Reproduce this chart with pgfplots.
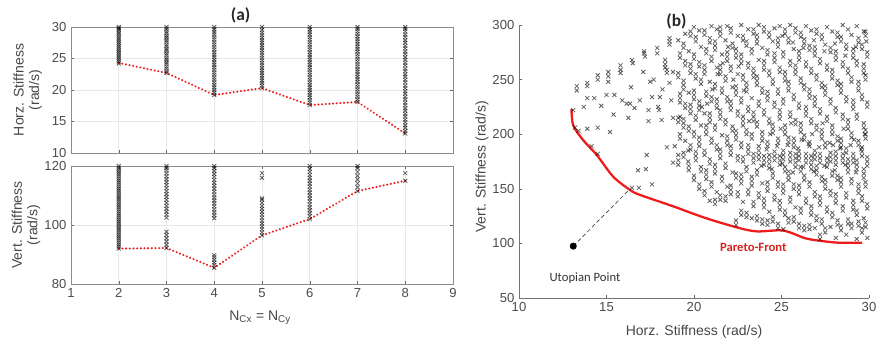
\documentclass[border=0pt]{standalone}
\usepackage{fontspec}
\setmainfont{Liberation Sans}
\newfontfamily\calfont{Carlito}
\usepackage{pgfplots}
\pgfplotsset{compat=1.18}
\definecolor{mred}{RGB}{238,28,28}
\definecolor{ptext}{RGB}{212,36,36}
\begin{document}
\begin{tikzpicture}
\path[use as bounding box] (0,0) rectangle (659.25pt,256.5pt);
\pgfplotsset{
 mystyle/.style={scale only axis, anchor=south west,
   /pgf/number format/assume math mode=true,
   tick label style={font=\fontsize{9.8}{10.5}\selectfont, text=black!70},
   label style={font=\fontsize{10.5}{11.6}\selectfont, text=black!72},
   major tick length=2.5pt, tick style={black!60}, tick align=inside, clip=false},
 xm/.style={only marks, mark=x, mark size=2.1pt, mark options={black, line width=0.6pt, opacity=0.62}},
 rdot/.style={mred, line width=1.7pt, dash pattern=on 0.05pt off 2.7pt, line cap=round},
}
% ---------- (a) top ----------
\begin{axis}[mystyle, at={(53.25pt,141.75pt)}, width=286.5pt, height=94.5pt,
 xmin=1, xmax=9, ymin=10, ymax=30, xtick={1,...,9}, xticklabels={}, ytick={10,15,20,25,30},
 grid=major, grid style={gray!18, line width=0.4pt}, axis line style={black!45},
 ylabel={Horz. Stiffness\\(rad/s)}, ylabel style={align=center, at={(axis description cs:-0.113,0.5)}, anchor=center}]
\addplot[xm] coordinates {(2,24.2)(2,24.5)(2,24.8)(2,25.1)(2,25.4)(2,25.7)(2,26)(2,26.3)(2,26.6)(2,26.9)(2,27.2)(2,27.5)(2,27.8)(2,28.1)(2,28.4)(2,28.7)(2,29)(2,29.3)(2,29.6)(2,29.8)(2,30)};
\addplot[xm] coordinates {(3,22.7)(3,23)(3,23.4)(3,23.7)(3,24.1)(3,24.4)(3,24.8)(3,25.1)(3,25.5)(3,25.8)(3,26.2)(3,26.5)(3,26.9)(3,27.2)(3,27.6)(3,27.9)(3,28.3)(3,28.6)(3,29)(3,29.3)(3,29.7)(3,30)};
\addplot[xm] coordinates {(4,19.2)(4,19.6)(4,20)(4,20.4)(4,20.8)(4,21.2)(4,21.6)(4,22)(4,22.4)(4,22.8)(4,23.2)(4,23.6)(4,24)(4,24.4)(4,24.8)(4,25.2)(4,25.6)(4,26)(4,26.4)(4,26.8)(4,27.2)(4,27.6)(4,28)(4,28.4)(4,28.8)(4,29.2)(4,29.6)(4,30)};
\addplot[xm] coordinates {(5,20.3)(5,20.7)(5,21.1)(5,21.5)(5,21.9)(5,22.3)(5,22.7)(5,23.1)(5,23.5)(5,23.9)(5,24.3)(5,24.7)(5,25.1)(5,25.5)(5,25.9)(5,26.3)(5,26.7)(5,27.1)(5,27.5)(5,27.9)(5,28.3)(5,28.7)(5,29.1)(5,29.5)(5,30)};
\addplot[xm] coordinates {(6,17.6)(6,18)(6,18.4)(6,18.8)(6,19.2)(6,19.6)(6,20)(6,20.4)(6,20.8)(6,21.2)(6,21.6)(6,22)(6,22.4)(6,22.8)(6,23.2)(6,23.6)(6,24)(6,24.4)(6,24.8)(6,25.2)(6,25.6)(6,26)(6,26.4)(6,26.8)(6,27.2)(6,27.6)(6,28)(6,28.4)(6,28.8)(6,29.2)(6,29.6)(6,30)};
\addplot[xm] coordinates {(7,18.1)(7,18.5)(7,18.9)(7,19.3)(7,19.7)(7,20.1)(7,20.5)(7,20.9)(7,21.3)(7,21.7)(7,22.1)(7,22.5)(7,22.9)(7,23.3)(7,23.7)(7,24.1)(7,24.5)(7,24.9)(7,25.3)(7,25.7)(7,26.1)(7,26.5)(7,26.9)(7,27.3)(7,27.7)(7,28.1)(7,28.5)(7,28.9)(7,29.3)(7,29.7)(7,30)};
\addplot[xm] coordinates {(8,13.1)(8,13.5)(8,14)(8,14.4)(8,14.9)(8,15.3)(8,15.8)(8,16.2)(8,16.7)(8,17.1)(8,17.6)(8,18)(8,18.5)(8,18.9)(8,19.4)(8,19.8)(8,20.3)(8,20.7)(8,21.2)(8,21.6)(8,22.1)(8,22.5)(8,23)(8,23.4)(8,23.9)(8,24.3)(8,24.8)(8,25.2)(8,25.7)(8,26.1)(8,26.6)(8,27)(8,27.5)(8,27.9)(8,28.4)(8,28.8)(8,29.3)(8,29.7)(8,30)};
\addplot[rdot] coordinates {(2,24.3)(3,22.7)(4,19.2)(5,20.3)(6,17.6)(7,18.1)(8,13.1)};
\node[font=\calfont\bfseries\fontsize{13}{14}\selectfont, text=black!85] at (axis description cs:0.444,1.095) {(a)};
\end{axis}
% ---------- (a) bottom ----------
\begin{axis}[mystyle, at={(53.25pt,43.5pt)}, width=286.5pt, height=88.5pt,
 xmin=1, xmax=9, ymin=80, ymax=120, xtick={1,...,9}, ytick={80,100,120},
 grid=major, grid style={gray!18, line width=0.4pt}, axis line style={black!45},
 xlabel={N\textsubscript{Cx} = N\textsubscript{Cy}}, xlabel style={at={(axis description cs:0.495,-0.288)}, anchor=center},
 ylabel={Vert. Stiffness\\(rad/s)}, ylabel style={align=center, at={(axis description cs:-0.118,0.5)}, anchor=center}]
\addplot[xm] coordinates {(2,92)(2,92.7)(2,93.4)(2,94.1)(2,94.8)(2,95.5)(2,96.2)(2,96.9)(2,97.6)(2,98.3)(2,99)(2,99.7)(2,100.4)(2,101.1)(2,101.8)(2,102.5)(2,103.2)(2,103.9)(2,104.6)(2,105.3)(2,106)(2,106.7)(2,107.4)(2,108.1)(2,108.8)(2,109.5)(2,110.2)(2,110.9)(2,111.6)(2,112.3)(2,113)(2,113.7)(2,114.4)(2,115.1)(2,115.8)(2,116.5)(2,117.2)(2,117.9)(2,118.6)(2,119.3)(2,120)};
\addplot[xm] coordinates {(3,92.2)(3,93.3)(3,94.4)(3,95.5)(3,96.6)(3,97.7)(3,102.5)(3,103.5)(3,104.5)(3,105.5)(3,106.5)(3,107.5)(3,108.5)(3,109.5)(3,110.5)(3,111.5)(3,112.5)(3,113.5)(3,114.5)(3,115.5)(3,116.5)(3,117.5)(3,118.5)(3,119.3)(3,120)};
\addplot[xm] coordinates {(4,85.5)(4,86.4)(4,87.3)(4,88.2)(4,89.1)(4,89.8)(4,102.3)(4,103.3)(4,104.3)(4,105.3)(4,106.3)(4,107.3)(4,108.3)(4,109.3)(4,110.3)(4,111.3)(4,112.3)(4,113.3)(4,114.3)(4,115.3)(4,116.3)(4,117.3)(4,118.3)(4,119.3)(4,120)};
\addplot[xm] coordinates {(5,96.5)(5,97.5)(5,98.5)(5,99.5)(5,100.5)(5,101.5)(5,102.5)(5,103.5)(5,104.5)(5,105.5)(5,106.5)(5,107.5)(5,108.5)(5,109)(5,116)(5,117.6)};
\addplot[xm] coordinates {(6,102)(6,103)(6,104)(6,105)(6,106)(6,107)(6,108)(6,109)(6,110)(6,111)(6,112)(6,113)(6,114)(6,115)(6,116)(6,117)(6,118)(6,119)(6,120)};
\addplot[xm] coordinates {(7,111.5)(7,112.8)(7,114.1)(7,115.4)(7,116.7)(7,118)(7,119.3)(7,120)};
\addplot[xm] coordinates {(8,115)(8,117.6)};
\addplot[rdot] coordinates {(2,92)(3,92.2)(4,85.5)(5,96.5)(6,102)(7,111.5)(8,115)};
\end{axis}
% ---------- (b) ----------
\begin{axis}[mystyle, at={(389.25pt,33pt)}, width=262.5pt, height=204.75pt,
 xmin=10, xmax=30, ymin=50, ymax=300, xtick={10,15,...,30}, ytick={50,100,...,300},
 axis x line*=bottom, axis y line*=left, axis line style={black!55}, x axis line style={-}, y axis line style={-},
 xlabel={Horz. Stiffness (rad/s)}, xlabel style={at={(axis description cs:0.5,-0.125)}, anchor=center},
 ylabel={Vert. Stiffness (rad/s)}, ylabel style={at={(axis description cs:-0.106,0.48)}, anchor=center}]
\addplot[xm] coordinates {
(13.1,222)(13.2,206)(13.4,203)(13.7,225)(13.3,240)(13.3,244)(13.9,233)(14.3,233)(13.9,244)(13.9,247)(14.5,254)(14.5,250)(14.7,226)(15.1,257)(15.1,253)(15.1,248)(15,236)(15.45,236)(15.4,218)(15.8,263)(15.8,259)(15.8,256)(15.9,231)(16.25,215)(16.35,228)(16.45,268)(16.5,265)(16.6,224)(16.9,231)(17.1,257)(17.15,274)(17.15,276)(17.2,271)(17.4,212)(17.6,234)(17.9,279)(17.9,274)(18,222)(18.05,234)(18.35,268)(18.35,264)(18.35,261)(18.6,288)(18.6,285)(18.6,282)
(13.9,205)(14.5,206)(15.2,202)(14.15,189)(14.5,182)(17.3,181)(16.8,167)(17.25,168)(16.45,151)(16.85,151)(17.6,154)(18.8,174)(18.45,188)(18.9,189)
(18.15,213)(18.8,215)(18.7,231)(18.45,256)(18.45,259)(18.6,247)(18.2,241)(17.7,250)(17.5,248)(16.15,228)(16.4,243)(17.4,222)(17.95,225)(18.8,257)(19.2,216)(19.67,185)(19.67,175)
(19.1,172)(19.1,176)(19.1,181)(19.2,196)(19.2,200)(19.1,211)(19.1,215)(19.2,229)(19.2,233)(19.2,237)(19.1,252)(19.1,256)(19.2,270)(19.2,274)(19.1,286)
(19.4,179)(19.4,183)(19.5,194)(19.4,206)(19.4,210)(19.4,214)(19.5,224)(19.5,228)(19.4,241)(19.4,245)(19.4,249)(19.5,263)(19.5,267)(19.4,279)(19.4,283)(19.5,292)
(19.7,167)(19.7,171)(19.8,186)(19.8,190)(19.7,203)(19.7,207)(19.8,219)(19.8,223)(19.8,227)(19.7,238)(19.8,256)(19.8,260)(19.8,264)(19.7,276)(19.8,290)(19.8,294)
(20,158)(20,162)(20.1,176)(20.1,180)(20.1,184)(20,198)(20,202)(20.1,213)(20.1,217)(20,232)(20,236)(20,240)(20.1,251)(20.1,255)(20,269)(20,273)(20.1,285)(20.1,289)(20,298)
(20.3,150)(20.3,154)(20.4,166)(20.4,170)(20.3,189)(20.3,193)(20.3,197)(20.4,208)(20.3,222)(20.3,226)(20.3,230)(20.4,246)(20.4,250)(20.3,262)(20.3,266)(20.4,280)(20.3,295)
(20.6,144)(20.6,148)(20.7,159)(20.7,163)(20.7,167)(20.6,181)(20.6,185)(20.7,200)(20.7,204)(20.7,208)(20.6,219)(20.7,235)(20.7,239)(20.6,255)(20.6,259)(20.6,263)(20.7,274)(20.7,278)(20.6,291)(20.6,295)
(20.9,139)(21,152)(21,156)(20.9,173)(20.9,177)(21,192)(21,196)(20.9,211)(20.9,215)(20.9,219)(21,230)(21,234)(20.9,248)(21,267)(21,271)(20.9,284)(20.9,288)(21,299)
(21.2,136)(21.2,140)(21.3,147)(21.2,164)(21.2,168)(21.2,172)(21.3,186)(21.3,190)(21.2,204)(21.2,208)(21.3,224)(21.3,228)(21.3,232)(21.2,242)(21.2,246)(21.3,261)(21.2,277)(21.2,281)(21.2,285)(21.3,296)
(21.5,140)(21.5,144)(21.6,157)(21.6,161)(21.5,178)(21.5,182)(21.5,186)(21.6,199)(21.5,214)(21.5,218)(21.5,222)(21.6,238)(21.6,242)(21.5,255)(21.5,259)(21.5,263)(21.6,273)(21.5,290)(21.5,294)(21.5,298)
(21.8,139)(21.8,143)(21.9,152)(21.8,169)(21.8,173)(21.9,190)(21.9,194)(21.9,198)(21.8,209)(21.8,213)(21.9,230)(21.9,234)(21.8,249)(21.8,253)(21.9,267)(21.9,271)(21.9,275)(21.8,286)(21.9,299)
(22.1,145)(22.1,149)(22.1,153)(22.2,165)(22.1,181)(22.1,185)(22.1,189)(22.2,203)(22.2,207)(22.1,222)(22.1,226)(22.1,230)(22.2,243)(22.1,258)(22.1,262)(22.2,279)(22.2,283)(22.1,293)(22.1,297)
(22.4,117)(22.4,121)(22.5,143)(22.5,147)(22.4,160)(22.4,164)(22.5,176)(22.5,180)(22.4,195)(22.4,199)(22.4,203)(22.5,217)(22.5,221)(22.4,236)(22.4,240)(22.4,244)(22.5,255)(22.4,270)(22.4,274)(22.4,278)(22.5,290)
(22.7,126)(22.7,130)(22.8,138)(22.7,155)(22.7,159)(22.7,163)(22.8,175)(22.8,179)(22.7,188)(22.7,192)(22.8,208)(22.8,212)(22.8,216)(22.7,229)(22.7,233)(22.8,250)(22.8,254)(22.7,265)(22.7,269)(22.7,273)(22.8,286)(22.8,290)(22.7,300)
(23,124)(23,128)(23.1,145)(23.1,149)(23,166)(23,170)(23.1,182)(23.1,186)(23.1,190)(23,200)(23,204)(23.1,221)(23.1,225)(23,239)(23,243)(23,247)(23.1,261)(23.1,265)(23,281)(23,285)(23.1,296)
(23.3,123)(23.4,134)(23.4,138)(23.3,153)(23.3,157)(23.3,161)(23.4,174)(23.4,178)(23.4,182)(23.3,196)(23.3,200)(23.4,212)(23.4,216)(23.4,220)(23.3,233)(23.4,252)(23.4,256)(23.4,260)(23.3,274)(23.3,278)(23.4,292)(23.4,296)
(23.6,121)(23.6,125)(23.7,142)(23.7,146)(23.6,163)(23.6,167)(23.7,177)(23.7,181)(23.7,185)(23.7,189)(23.6,207)(23.6,211)(23.7,226)(23.7,230)(23.6,245)(23.6,249)(23.6,253)(23.7,268)(23.6,283)(23.6,287)(23.6,291)(23.7,300)
(23.9,118)(23.9,122)(24,133)(24,137)(24,141)(23.9,155)(24,172)(24,176)(24,180)(23.9,194)(23.9,198)(23.9,202)(24,218)(24,222)(23.9,238)(23.9,242)(24,259)(24,263)(24,267)(23.9,279)(24,294)(24,298)
(24.2,117)(24.2,121)(24.3,129)(24.2,148)(24.2,152)(24.2,156)(24.3,169)(24.3,173)(24.3,177)(24.3,181)(24.2,189)(24.2,193)(24.3,210)(24.3,214)(24.2,231)(24.2,235)(24.2,239)(24.3,254)(24.3,258)(24.2,273)(24.2,277)(24.3,289)(24.3,293)
(24.5,120)(24.5,124)(24.6,140)(24.6,144)(24.5,160)(24.5,164)(24.6,176)(24.6,180)(24.6,184)(24.5,201)(24.5,205)(24.5,209)(24.6,225)(24.6,229)(24.5,246)(24.5,250)(24.6,266)(24.6,270)(24.6,274)(24.5,285)(24.6,297)
(24.8,114)(24.8,118)(24.9,131)(24.9,135)(24.9,139)(24.8,152)(24.8,156)(24.9,172)(24.9,176)(24.9,180)(24.8,192)(24.8,196)(24.9,214)(24.9,218)(24.9,222)(24.8,237)(24.8,241)(24.9,257)(24.9,261)(24.8,280)(24.8,284)(24.8,288)(24.9,299)
(25.1,113)(25.2,126)(25.2,130)(25.1,146)(25.1,150)(25.1,154)(25.2,166)(25.2,170)(25.1,177)(25.1,181)(25.1,185)(25.2,200)(25.2,204)(25.2,208)(25.1,228)(25.1,232)(25.2,249)(25.2,253)(25.2,257)(25.1,271)(25.1,275)(25.2,292)(25.2,296)
(25.4,119)(25.4,123)(25.5,138)(25.5,142)(25.4,158)(25.4,162)(25.4,166)(25.5,175)(25.5,179)(25.5,183)(25.4,193)(25.4,197)(25.5,216)(25.5,220)(25.4,240)(25.4,244)(25.4,248)(25.5,263)(25.5,267)(25.4,284)(25.4,288)(25.5,300)
(25.7,120)(25.7,124)(25.8,133)(25.7,150)(25.7,154)(25.8,170)(25.8,174)(25.8,178)(25.8,182)(25.7,188)(25.7,192)(25.7,196)(25.8,209)(25.8,213)(25.7,232)(25.7,236)(25.8,255)(25.8,259)(25.8,263)(25.7,278)(25.8,293)(25.8,297)
(26,114)(26,118)(26.1,128)(26.1,132)(26,145)(26,149)(26,153)(26.1,166)(26.1,170)(26,176)(26,180)(26,184)(26.1,202)(26.1,206)(26.1,210)(26,224)(26,228)(26.1,247)(26.1,251)(26,268)(26,272)(26,276)(26.1,289)(26.1,293)
(26.3,112)(26.3,116)(26.4,137)(26.4,141)(26.3,158)(26.3,162)(26.4,174)(26.4,178)(26.4,182)(26.3,195)(26.3,199)(26.4,217)(26.4,221)(26.4,225)(26.3,241)(26.3,245)(26.4,262)(26.4,266)(26.3,283)(26.3,287)(26.4,299)
(26.6,113)(26.6,117)(26.7,126)(26.7,130)(26.7,134)(26.6,152)(26.6,156)(26.7,168)(26.7,172)(26.7,176)(26.7,180)(26.6,189)(26.6,193)(26.7,210)(26.7,214)(26.6,233)(26.6,237)(26.6,241)(26.7,256)(26.7,260)(26.6,277)(26.6,281)(26.7,295)
(26.9,114)(27,121)(27,125)(26.9,143)(26.9,147)(27,163)(27,167)(27,171)(26.9,177)(26.9,181)(26.9,185)(27,204)(27,208)(26.9,226)(26.9,230)(26.9,234)(27,250)(27,254)(26.9,272)(26.9,276)(26.9,280)(27,292)(27,296)
(27.2,104)(27.2,108)(27.3,118)(27.3,122)(27.2,135)(27.2,139)(27.2,143)(27.3,157)(27.3,161)(27.2,174)(27.2,178)(27.2,182)(27.3,196)(27.3,200)(27.3,204)(27.2,219)(27.2,223)(27.3,243)(27.3,247)(27.2,265)(27.2,269)(27.3,287)(27.3,291)
(27.5,110)(27.5,114)(27.6,129)(27.6,133)(27.5,150)(27.5,154)(27.5,158)(27.6,170)(27.6,174)(27.6,178)(27.5,188)(27.5,192)(27.6,212)(27.6,216)(27.5,236)(27.5,240)(27.5,244)(27.6,259)(27.6,263)(27.5,282)(27.6,298)
(27.8,115)(27.9,124)(27.9,128)(27.8,144)(27.8,148)(27.9,162)(27.9,166)(27.8,175)(27.8,179)(27.8,183)(27.9,200)(27.9,204)(27.9,208)(27.8,228)(27.8,232)(27.9,251)(27.9,255)(27.9,259)(27.8,275)(27.8,279)(27.9,294)
(28.1,105)(28.2,117)(28.2,121)(28.1,137)(28.1,141)(28.1,145)(28.2,158)(28.2,162)(28.1,172)(28.1,176)(28.1,180)(28.1,184)(28.2,194)(28.2,198)(28.1,220)(28.1,224)(28.2,245)(28.2,249)(28.1,268)(28.1,272)(28.1,276)(28.2,289)(28.2,293)
(28.4,112)(28.4,116)(28.5,130)(28.5,134)(28.4,152)(28.4,156)(28.4,160)(28.5,174)(28.5,178)(28.5,182)(28.4,188)(28.4,192)(28.4,196)(28.5,214)(28.5,218)(28.4,238)(28.4,242)(28.4,246)(28.5,262)(28.5,266)(28.4,285)(28.4,289)(28.5,300)
(28.7,108)(28.8,118)(28.8,122)(28.7,142)(28.7,146)(28.8,165)(28.8,169)(28.8,173)(28.8,177)(28.7,183)(28.7,187)(28.8,205)(28.8,209)(28.8,213)(28.7,230)(28.7,234)(28.8,256)(28.8,260)(28.7,278)(28.7,282)(28.8,296)
(29,114)(29,118)(29.1,131)(29.1,135)(29.1,139)(29,155)(29,159)(29.1,174)(29.1,178)(29.1,182)(29,197)(29,201)(29.1,223)(29.1,227)(29.1,231)(29,248)(29,252)(29.1,270)(29.1,274)(29.1,278)(29,291)
(29.3,104)(29.4,116)(29.4,120)(29.3,126)(29.3,130)(29.4,146)(29.4,150)(29.4,154)(29.3,168)(29.3,172)(29.3,176)(29.4,190)(29.4,194)(29.3,214)(29.3,218)(29.4,240)(29.4,244)(29.4,248)(29.3,263)(29.3,267)(29.4,284)(29.4,288)(29.3,299)
(29.6,110)(29.6,114)(29.7,123)(29.6,139)(29.6,143)(29.7,160)(29.7,164)(29.7,168)(29.6,180)(29.6,184)(29.6,188)(29.7,206)(29.7,210)(29.6,232)(29.6,236)(29.7,256)(29.7,260)(29.7,264)(29.6,278)(29.6,282)(29.7,294)
(29.9,105)(29.8,115)(29.8,119)(29.9,132)(29.9,136)(29.8,152)(29.8,156)(29.9,171)(29.9,175)(29.9,179)(29.8,196)(29.8,200)(29.8,204)(29.9,225)(29.9,229)(29.8,250)(29.8,254)(29.9,271)(29.9,275)(29.8,290)(29.8,294)
(23.85,171)(24.15,186)(24.45,168)(24.75,189)(25.05,173)(25.35,190)(25.65,165)(25.95,187)(26.25,170)(26.55,191)(26.85,166)(27.15,188)(27.45,171)(27.75,192)(28.05,167)(28.35,187)(28.65,172)(28.95,190)(29.25,165)(29.55,186)
(25.05,290)(25.65,284)(26.25,279)(26.85,286)(27.45,276)(28.05,283)(28.65,272)(29.25,280)(29.85,285)
(20.45,225)(20.75,228)(21.05,241)(21.35,255)(21.65,265)(21.95,280)(22.25,250)(22.55,262)(22.85,240)(23.15,212)
(24.35,200)(24.95,205)(25.55,210)(26.15,195)(26.75,200)(27.35,210)(27.95,190)(28.55,205)(29.15,195)(29.75,200)
};
\addplot[black!75, densely dashed, line width=0.5pt] coordinates {(13.1,97.5)(16.35,150)};
\addplot[only marks, mark=*, mark size=2.4pt, black] coordinates {(13.1,97.5)};
\addplot[mred, line width=1.7pt, smooth, tension=0.5] coordinates {(13,223)(13.1,208)(13.67,194.5)(14.44,181)(15.39,161)(16.34,149)(16.9,144.5)(18.8,134)(20.7,123)(22.6,114)(23.6,111)(24.9,112)(25.5,110)(26.4,104.5)(27.4,102)(28.3,100.6)(29.6,100.6)};
\node[font=\calfont\fontsize{9.5}{10}\selectfont, text=black!80] at (axis cs:13.77,68.3) {Utopian Point};
\node[font=\calfont\bfseries\fontsize{9.5}{10}\selectfont, text=ptext] at (axis cs:23.39,96.4) {Pareto-Front};
\node[font=\calfont\bfseries\fontsize{13}{14}\selectfont, text=black!85] at (axis description cs:0.45,1.012) {(b)};
\end{axis}
\end{tikzpicture}
\end{document}
